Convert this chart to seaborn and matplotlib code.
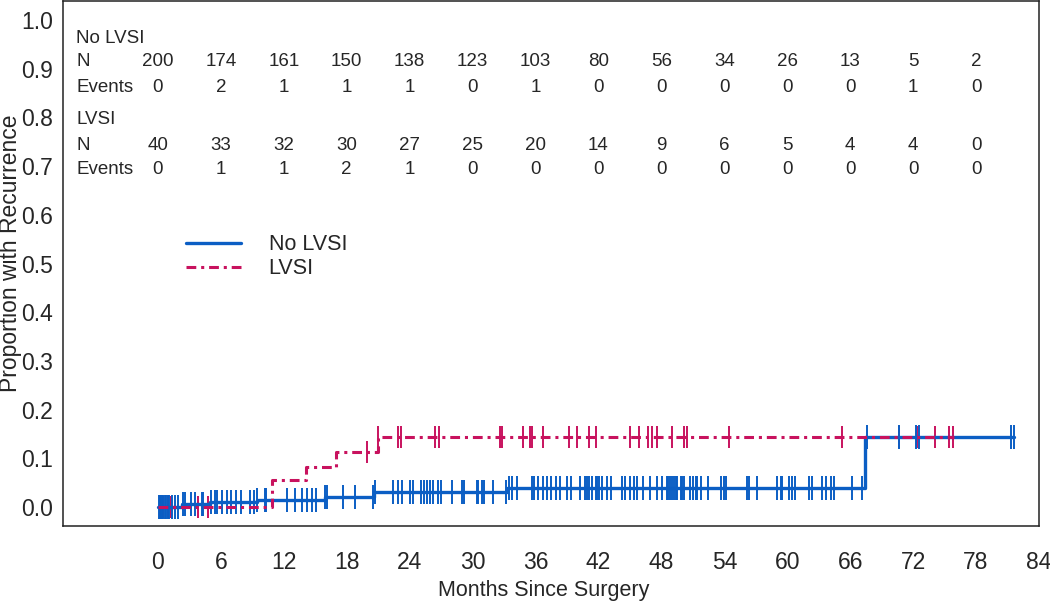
import numpy as np
import pandas as pd
import seaborn as sns
import matplotlib.pyplot as plt

sns.set_style('white')
plt.rcParams['font.family'] = ['Liberation Sans', 'DejaVu Sans']

# step curves (cumulative proportion with recurrence)
no_lvsi_t = [0, 2.3, 5.0, 9.4, 15.9, 20.6, 33.3, 67.4, 81.6]
no_lvsi_p = [0, 0.006, 0.011, 0.015, 0.021, 0.030, 0.040, 0.143, 0.143]
lvsi_t = [0, 10.9, 14.1, 17.0, 21.0, 75.9]
lvsi_p = [0, 0.056, 0.083, 0.113, 0.143, 0.143]

# censored times
no_lvsi_cens = [0.1, 0.2, 0.3, 0.4, 0.5, 0.7, 0.8, 0.95, 1.1, 1.3, 1.6, 1.9, 2.4, 2.6, 3.2, 3.5,
                4.2, 4.3, 5.1, 5.4, 5.6, 6.1, 6.6, 7.0, 7.4, 7.9, 8.8, 9.2, 9.4, 10.2, 10.3,
                12.3, 13.1, 13.7, 14.2, 14.7, 15.1, 15.9, 16.1, 17.6, 18.8, 20.5, 20.7,
                22.4, 22.9, 23.3, 24.0, 24.3, 25.1, 25.4, 25.7, 25.9, 26.2, 26.7, 27.0, 28.0,
                29.0, 29.2, 30.4, 30.5, 30.9, 31.1, 31.9, 33.2, 33.5, 33.8, 34.2, 35.7, 35.9,
                36.2, 36.7, 37.1, 37.5, 38.0, 38.3, 39.0, 39.4, 40.2, 40.7, 40.9, 41.1, 41.4,
                41.8, 41.9, 42.1, 42.3, 42.8, 43.2, 44.2, 44.5, 45.0, 45.4, 45.7, 46.2, 46.9,
                47.6, 48.1, 48.5, 48.6, 48.8, 49.0, 49.2, 49.4, 49.5, 49.9, 50.0, 50.2, 50.7,
                51.0, 51.3, 51.4, 51.8, 52.4, 53.7, 54.0, 54.2, 56.2, 56.4, 57.1, 59.0, 59.4,
                59.5, 60.2, 60.5, 60.7, 62.1, 62.4, 63.3, 63.7, 64.2, 64.5, 66.2, 67.1,
                67.6, 70.7, 72.3, 72.6, 81.3, 81.6]
lvsi_cens = [0.2, 0.5, 0.95, 1.24, 3.8, 4.8, 19.9, 21.0, 22.9, 23.2, 26.4, 26.8, 32.6, 32.8,
             34.8, 35.5, 35.7, 36.7, 39.2, 40.0, 41.1, 41.8, 45.0, 45.9, 46.7, 47.1, 47.6,
             49.0, 50.2, 50.4, 54.4, 65.2, 70.7, 72.4, 74.1, 75.4, 75.8]

# number at risk table
months = [0, 6, 12, 18, 24, 30, 36, 42, 48, 54, 60, 66, 72, 78]
no_lvsi_n = [200, 174, 161, 150, 138, 123, 103, 80, 56, 34, 26, 13, 5, 2]
no_lvsi_ev = [0, 2, 1, 1, 1, 0, 1, 0, 0, 0, 0, 0, 1, 0]
lvsi_n = [40, 33, 32, 30, 27, 25, 20, 14, 9, 6, 5, 4, 4, 0]
lvsi_ev = [0, 1, 1, 2, 1, 0, 0, 0, 0, 0, 0, 0, 0, 0]

blue = '#0b5ec4'
red = '#c8125e'


def censor_y(t, p, cens):
    idx = np.searchsorted(t, cens, side='right') - 1
    return np.array(p)[idx]


fig = plt.figure(figsize=(10.5, 6.01), dpi=100)
ax = fig.add_axes([0.06, 0.1248, 0.9295, 0.8735])

sns.lineplot(x=no_lvsi_t, y=no_lvsi_p, drawstyle='steps-post', estimator=None, sort=False,
             color=blue, lw=2.4, label='No LVSI', ax=ax)
sns.lineplot(x=lvsi_t, y=lvsi_p, drawstyle='steps-post', estimator=None, sort=False,
             color=red, lw=2.2, linestyle=(0, (3.2, 1.6, 1, 1.6)), label='LVSI', ax=ax)
sns.scatterplot(x=lvsi_cens, y=censor_y(lvsi_t, lvsi_p, lvsi_cens), marker='|', s=260,
                linewidth=1.4, color=red, ax=ax, legend=False)
sns.scatterplot(x=no_lvsi_cens, y=censor_y(no_lvsi_t, no_lvsi_p, no_lvsi_cens), marker='|',
                s=300, linewidth=1.4, color=blue, ax=ax, legend=False)

# at-risk table
row_x = -7.8
tbl = [
    (0.963, 'No LVSI', None),
    (0.914, 'N', no_lvsi_n),
    (0.862, 'Events', no_lvsi_ev),
    (0.795, 'LVSI', None),
    (0.743, 'N', lvsi_n),
    (0.694, 'Events', lvsi_ev),
]
for yy, lab, vals in tbl:
    ax.text(row_x, yy, lab, fontsize=13.5, va='center', ha='left')
    if vals is not None:
        for m, v in zip(months, vals):
            ax.text(m, yy, str(v), fontsize=13.5, va='center', ha='center')

ax.set_xlim(-9.05, 84)
ax.set_ylim(-0.039, 1.039)
ax.set_xticks(range(0, 85, 6))
ax.set_yticks(np.arange(0, 1.01, 0.1))
ax.set_yticklabels([f'{v:.1f}' for v in np.arange(0, 1.01, 0.1)])
ax.tick_params(axis='both', direction='in', length=3, width=0.8, color='#888888',
               labelsize=16.5)
ax.tick_params(axis='x', pad=18)
ax.tick_params(axis='y', pad=7)

ax.set_xlabel('Months Since Surgery', fontsize=15.5, va='center')
ax.set_ylabel('Proportion with Recurrence', fontsize=16.5, va='center')
ax.xaxis.set_label_coords(0.493, -0.122)
ax.yaxis.set_label_coords(-0.0535, 0.52)

for s in ax.spines.values():
    s.set_visible(True)
    s.set_color('#222222')
    s.set_linewidth(1.1)

ax.legend(frameon=False, loc='upper left', bbox_to_anchor=(0.106, 0.593), fontsize=15.5,
          handlelength=2.55, handletextpad=1.3, labelspacing=0.15)

fig.savefig('out.png', dpi=100)
